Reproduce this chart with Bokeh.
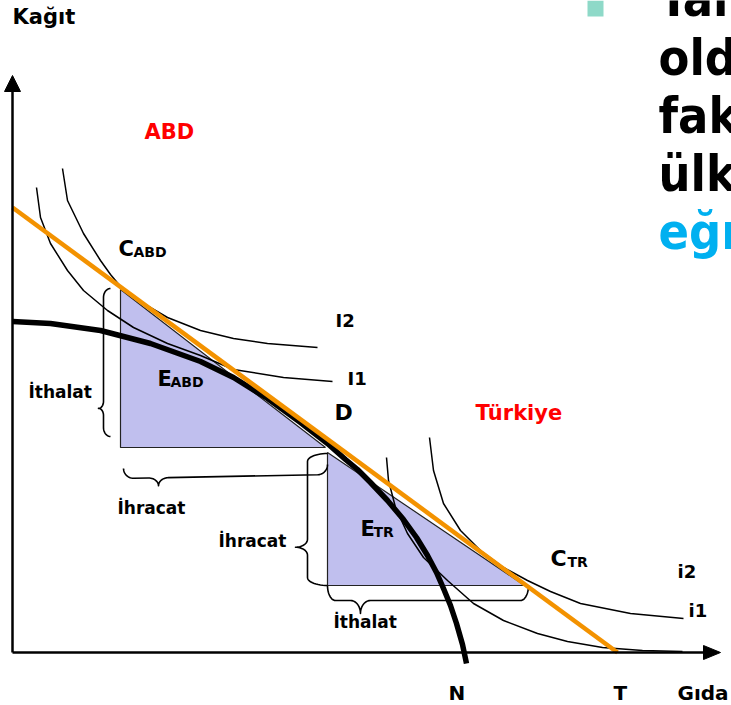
import numpy as np
from bokeh.plotting import figure
from bokeh.models import Range1d
from bokeh.core.properties import value
from bokeh.embed import file_html
from bokeh.resources import INLINE

# Diagram coordinates: x = Gıda, y = Kağıt (origin at the corner of the axes)
# Production possibility frontier (thick black curve)
ppf_x = [0, 38, 88, 138, 188, 221, 255, 288, 315, 333, 345, 358, 375, 391, 404, 415, 424, 431, 438, 444, 450, 454]
ppf_y = [331, 329, 322, 309, 291, 275, 254, 230, 209, 193, 183, 170, 152, 133, 115, 97, 80, 64, 47, 29, 8, -11]

# Terms-of-trade line (orange)
tot_x = [0, 605]
tot_y = [445, 0]

# ABD indifference curves
abd_I2_x = [50, 55, 71, 88, 98, 108, 119, 131, 155, 188, 221, 255, 305]
abd_I2_y = [484, 452, 419, 392, 378, 366, 357, 349, 335, 322, 314, 309, 305]
abd_I1_x = [24, 28, 38, 55, 71, 95, 121, 155, 188, 221, 271, 320]
abd_I1_y = [465, 435, 409, 382, 362, 342, 325, 309, 297, 283, 275, 271]

# Türkiye indifference curves
tr_i2_x = [417, 421, 431, 448, 468, 491, 515, 538, 568, 618, 671]
tr_i2_y = [215, 182, 149, 122, 102, 85, 72, 61, 49, 39, 34]
tr_i1_x = [374, 376, 383, 395, 411, 435, 461, 491, 525, 555, 590, 630, 670]
tr_i1_y = [195, 172, 145, 119, 95, 72, 49, 32, 19, 11, 5, 2, 1]

# Trade triangles
abd_tri_x = [108, 108, 313]
abd_tri_y = [363, 205, 205]
tr_tri_x = [315, 315, 512]
tr_tri_y = [200, 67, 67]

p = figure(width=731, height=705, x_range=Range1d(-12, 719), y_range=Range1d(-53, 652),
           output_backend="svg", toolbar_location=None,
           x_axis_location=None, y_axis_location=None,
           min_border=0, min_border_left=0, min_border_right=0,
           min_border_top=0, min_border_bottom=0)
p.grid.visible = False
p.outline_line_color = None
p.background_fill_color = "white"
p.border_fill_color = "white"

FILL = "#C0BFEE"
p.patch(abd_tri_x, abd_tri_y, fill_color=FILL, line_color="#222222", line_width=1.2)
p.patch(tr_tri_x, tr_tri_y, fill_color=FILL, line_color="#222222", line_width=1.2)


def brace(p0, p1, out, h, c, t, r=9, r2=8, n=14):
    p0 = np.array(p0, float)
    p1 = np.array(p1, float)
    d = p1 - p0
    L = np.hypot(*d)
    u = d / L
    nrm = np.array([-u[1], u[0]])
    if np.dot(nrm, out) < 0:
        nrm = -nrm
    th = np.linspace(0, np.pi / 2, n)
    th2 = th[::-1]
    tc = t * L
    segs = [
        np.c_[r * (1 - np.cos(th)), h * np.sin(th)],
        np.c_[tc - r2 + r2 * np.sin(th), h + c * (1 - np.cos(th))],
        np.c_[tc + r2 * (1 - np.sin(th2)), h + c * (1 - np.cos(th2))],
        np.c_[L - r * (1 - np.cos(th2)), h * np.sin(th2)],
    ]
    uv = np.vstack(segs)
    pts = p0 + np.outer(uv[:, 0], u) + np.outer(uv[:, 1], nrm)
    return list(pts[:, 0]), list(pts[:, 1])


braces = [
    brace((abd_tri_x[0] - 10, abd_tri_y[0] + 1), (abd_tri_x[1] - 10, abd_tri_y[1] + 11), (-1, 0), h=7, c=5, t=0.81, r=9, r2=7),
    brace((abd_tri_x[1] + 3, abd_tri_y[1] - 21), (abd_tri_x[2] + 2, abd_tri_y[2] - 17), (0, -1), h=10, c=8, t=0.17, r=10, r2=10),
    brace((tr_tri_x[0], tr_tri_y[0] - 1), (tr_tri_x[1], tr_tri_y[1]), (-1, 0), h=20, c=12, t=0.71, r=8, r2=8),
    brace((tr_tri_x[1], tr_tri_y[1]), (tr_tri_x[2] + 4, tr_tri_y[2]), (0, -1), h=15, c=13, t=0.164, r=8, r2=10),
]
for bx, by in braces:
    p.line(bx, by, line_color="black", line_width=1.6, line_join="round")

# Indifference curves
for cx, cy in [(abd_I2_x, abd_I2_y), (abd_I1_x, abd_I1_y), (tr_i2_x, tr_i2_y), (tr_i1_x, tr_i1_y)]:
    p.line(cx, cy, line_color="black", line_width=1.5, line_join="round")

# PPF
p.line(ppf_x, ppf_y, line_color="black", line_width=5.5, line_join="round")
# Terms of trade
p.line(tot_x, tot_y, line_color="#F39200", line_width=4.5)

# Axes
p.line([0, 0], [0, 565], line_color="black", line_width=2.5)
p.line([0, 694], [0, 0], line_color="black", line_width=2.5)
p.patch([0, -8, 8], [577, 561, 561], fill_color="black", line_color="black")
p.patch([708, 691, 691], [0, 7, -7], fill_color="black", line_color="black")

FONT = value("DejaVu Sans")
BASE_FIX = 0.4  # the svg text sits this fraction of its size below the given baseline


def label(x, y, txt, size, color="black", font=FONT):
    p.text(x=[x], y=[y + BASE_FIX * size], text=[txt], text_font=font, text_font_style="bold",
           text_font_size=f"{size}px", text_color=color,
           text_baseline="alphabetic", text_align="left")


label(0, 627, "Kağıt", 21)
label(132, 512, "ABD", 21, "#FF0000")
label(106, 395, "C", 21)
label(121, 395, "ABD", 14)
label(323, 325, "I2", 18)
label(335, 267, "I1", 18)
label(16, 254, "İthalat", 17)
label(145, 265, "E", 21)
label(158, 265, "ABD", 14)
label(322, 231, "D", 22)
label(463, 231, "Türkiye", 21, "#FF0000")
label(105, 138, "İhracat", 17)
label(206, 105, "İhracat", 17)
label(348, 115, "E", 21)
label(361, 115, "TR", 14)
label(538, 85, "C", 22)
label(555, 85, "TR", 14)
label(321, 24, "İthalat", 17)
label(665, 74, "i2", 18)
label(676, 35, "i1", 18)
label(436, -48, "N", 20)
label(601, -48, "T", 20)
label(665, -48, "Gıda", 20)

# Slide text at the right edge (cut off in the original)
p.quad(left=[575], right=[591], bottom=[636], top=[652], fill_color="#8ED9C8", line_color=None)
big_lines = ["Tal", "old", "fak", "ülk", "eğr"]
big_base = [634, 575, 517, 459, 401]
big_cols = ["black", "black", "black", "black", "#00B0F0"]
BIG = value("DejaVu Sans Condensed")
for txt, yb, col in zip(big_lines, big_base, big_cols):
    label(646, yb, txt, 50, col, BIG)

open("out.html", "w").write(file_html(p, INLINE))
